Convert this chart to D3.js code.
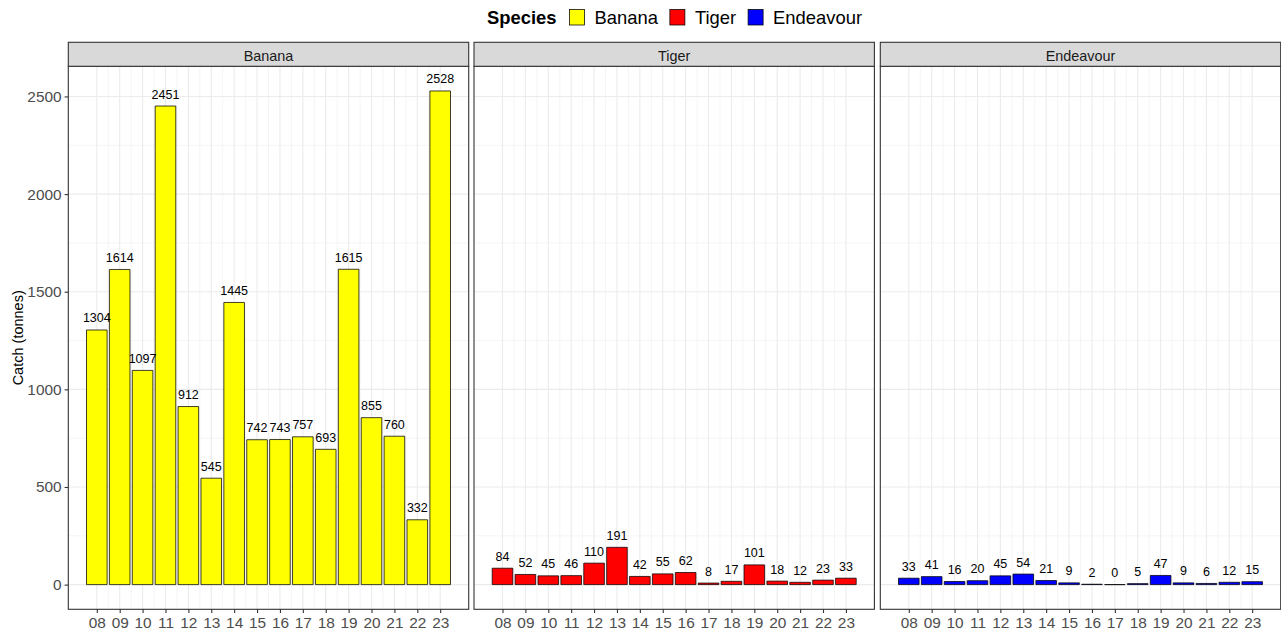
<!DOCTYPE html>
<html>
<head>
<meta charset="utf-8">
<script src="https://cdn.jsdelivr.net/npm/d3@7"></script>
<style>
  html, body { margin: 0; padding: 0; background: #fff; }
  svg { display: block; font-family: "Liberation Sans", Arial, sans-serif; }
</style>
</head>
<body>
<svg id="chart" width="1281" height="632"></svg>
<script>
// Catch by financial year for each prawn species
const years = ["08","09","10","11","12","13","14","15","16","17","18","19","20","21","22","23"];
const species = ["Banana", "Tiger", "Endeavour"];
const speciesColors = ["#FFFF00", "#FF0000", "#0000FF"];
const banana = [1304,1614,1097,2451,912,545,1445,742,743,757,693,1615,855,760,332,2528];
const tiger = [84,52,45,46,110,191,42,55,62,8,17,101,18,12,23,33];
const endeavour = [33,41,16,20,45,54,21,9,2,0,5,47,9,6,12,15];
const yTicks = [0, 500, 1000, 1500, 2000, 2500];
const yMinorTicks = [250, 750, 1250, 1750, 2250];

const seriesValues = [banana, tiger, endeavour];

const svg = d3.select("#chart");

// panel geometry
const panelTop = 66.3, panelBottom = 609.3;
const stripTop = 42.3;
const panelLefts = [68.3, 474, 880.3];
const panelWidth = 400.4;

// y scale: 0..max expanded by 5%
const yMax = d3.max(seriesValues.flat());
const yPad = yMax * 0.05;
const y = d3.scaleLinear().domain([-yPad, yMax + yPad]).range([panelBottom, panelTop]);

const barW = 0.9;
const xLo = 1 - barW / 2, xHi = years.length + barW / 2;
const xPad = (xHi - xLo) * 0.05;

species.forEach((sp, i) => {
  const left = panelLefts[i];
  const x = d3.scaleLinear().domain([xLo - xPad, xHi + xPad]).range([left, left + panelWidth]);
  const g = svg.append("g");
  const vals = seriesValues[i];
  const idx = d3.range(1, years.length + 1);

  // grid: minor first, then major
  const minorX = d3.range(1.5, years.length, 1);
  g.selectAll(".gxm").data(minorX).join("line")
    .attr("x1", d => x(d)).attr("x2", d => x(d))
    .attr("y1", panelTop).attr("y2", panelBottom)
    .attr("stroke", "#ebebeb").attr("stroke-width", 0.55);
  g.selectAll(".gym").data(yMinorTicks).join("line")
    .attr("x1", left).attr("x2", left + panelWidth)
    .attr("y1", d => y(d)).attr("y2", d => y(d))
    .attr("stroke", "#ebebeb").attr("stroke-width", 0.55);
  g.selectAll(".gx").data(idx).join("line")
    .attr("x1", d => x(d)).attr("x2", d => x(d))
    .attr("y1", panelTop).attr("y2", panelBottom)
    .attr("stroke", "#ebebeb").attr("stroke-width", 1.1);
  g.selectAll(".gy").data(yTicks).join("line")
    .attr("x1", left).attr("x2", left + panelWidth)
    .attr("y1", d => y(d)).attr("y2", d => y(d))
    .attr("stroke", "#ebebeb").attr("stroke-width", 1.1);

  // bars (paths so zero-height bars still show their outline)
  g.selectAll(".bar").data(vals).join("path")
    .attr("d", (d, j) => {
      const x0 = x(j + 1 - barW / 2), x1 = x(j + 1 + barW / 2);
      return `M${x0},${y(0)}H${x1}V${y(d)}H${x0}Z`;
    })
    .attr("fill", speciesColors[i])
    .attr("stroke", "#000").attr("stroke-width", 0.75);

  // value labels
  g.selectAll(".lbl").data(vals).join("text")
    .attr("x", (d, j) => x(j + 1))
    .attr("y", d => y(d) - 7.5)
    .attr("text-anchor", "middle")
    .attr("font-size", "12.5px")
    .attr("fill", "#000")
    .text(d => d);

  // panel border
  g.append("rect")
    .attr("x", left).attr("y", panelTop)
    .attr("width", panelWidth).attr("height", panelBottom - panelTop)
    .attr("fill", "none").attr("stroke", "#333").attr("stroke-width", 1.1);

  // strip
  g.append("rect")
    .attr("x", left).attr("y", stripTop)
    .attr("width", panelWidth).attr("height", panelTop - stripTop)
    .attr("fill", "#d9d9d9").attr("stroke", "#333").attr("stroke-width", 1.1);
  g.append("text")
    .attr("x", left + panelWidth / 2).attr("y", 60.5)
    .attr("text-anchor", "middle")
    .attr("font-size", "14.4px")
    .attr("fill", "#1a1a1a")
    .text(sp);

  // x axis
  const xAxis = d3.axisBottom(x)
    .tickValues(idx)
    .tickFormat(d => years[d - 1])
    .tickSize(3.7).tickPadding(4);
  const ax = g.append("g").attr("transform", `translate(0,${panelBottom})`).call(xAxis);
  ax.select(".domain").remove();
  ax.selectAll(".tick line").attr("stroke", "#333").attr("stroke-width", 1.1);
  ax.selectAll(".tick text").attr("fill", "#4d4d4d")
    .attr("font-size", "15.4px").attr("font-family", "Liberation Sans, Arial, sans-serif");

  // y axis on first panel only
  if (i === 0) {
    const yAxis = d3.axisLeft(y).tickValues(yTicks).tickFormat(d3.format("d"))
      .tickSize(3.7).tickPadding(3);
    const ay = g.append("g").attr("transform", `translate(${left},0)`).call(yAxis);
    ay.select(".domain").remove();
    ay.selectAll(".tick line").attr("stroke", "#333").attr("stroke-width", 1.1);
    ay.selectAll(".tick text").attr("fill", "#4d4d4d")
      .attr("font-size", "15.4px").attr("font-family", "Liberation Sans, Arial, sans-serif");
  }
});

// y axis title
svg.append("text")
  .attr("transform", `translate(23,${(panelTop + panelBottom) / 2}) rotate(-90)`)
  .attr("text-anchor", "middle")
  .attr("font-size", "14.5px")
  .attr("fill", "#000")
  .text("Catch (tonnes)");

// legend at top, centred over panels
const legend = svg.append("g");
const title = legend.append("text")
  .attr("x", 0).attr("y", 24)
  .attr("font-size", "18.4px").attr("font-weight", "bold").attr("fill", "#000")
  .text("Species");
let cx = title.node().getComputedTextLength() + 13;
species.forEach((sp, i) => {
  legend.append("rect")
    .attr("x", cx).attr("y", 9.5)
    .attr("width", 15).attr("height", 15.5)
    .attr("fill", speciesColors[i]).attr("stroke", "#000").attr("stroke-width", 0.75);
  const t = legend.append("text")
    .attr("x", cx + 25).attr("y", 24)
    .attr("font-size", "18.4px").attr("fill", "#000")
    .text(sp);
  cx += 25 + t.node().getComputedTextLength() + (i < species.length - 1 ? 12 : 0);
});
const legendW = cx;
const centre = (panelLefts[0] + panelLefts[2] + panelWidth) / 2;
legend.attr("transform", `translate(${centre - legendW / 2},0)`);
</script>
</body>
</html>
